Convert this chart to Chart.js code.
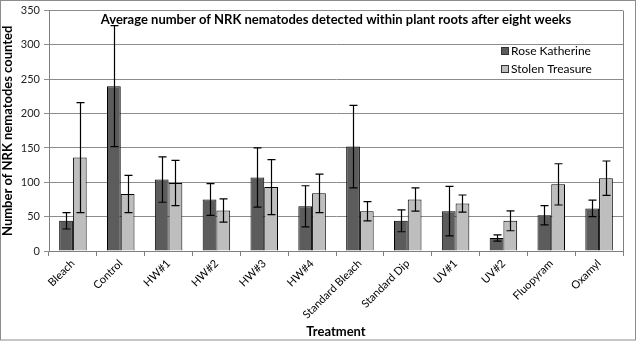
<!DOCTYPE html>
<html>
<head>
<meta charset="utf-8">
<script src="https://cdn.jsdelivr.net/npm/chart.js@4.4.1/dist/chart.umd.min.js"></script>
<style>
  body { margin: 0; background: #fff; }
  #wrap { width: 639px; height: 342px; }
</style>
</head>
<body>
<div id="wrap"><canvas id="chart" width="639" height="342"></canvas></div>
<script>
// categories and series
var treatments = ['Bleach', 'Control', 'HW#1', 'HW#2', 'HW#3', 'HW#4', 'Standard Bleach', 'Standard Dip', 'UV#1', 'UV#2', 'Fluopyram', 'Oxamyl'];
var roseKatherine = [44, 240, 104, 75, 107, 65, 152, 44, 58, 19, 52, 62];
var roseKatherineErr = [12, 88, 33, 23, 43, 30, 60, 16, 36, 4.5, 14, 12];
var stolenTreasure = [136, 83, 99, 59, 93, 84, 58, 75, 69, 44, 97, 106];
var stolenTreasureErr = [80, 27, 33, 17, 40, 28, 14, 17, 12.5, 14.5, 30, 25];
var yTicks = [0, 50, 100, 150, 200, 250, 300, 350];

var chartTitle = 'Average number of NRK nematodes detected within plant roots after eight weeks';
var fontFam = 'Lato, "Open Sans", sans-serif';

// error bars, title, legend and frame
var extras = {
    id: 'extras',
    afterDatasetsDraw: function(chart) {
        var ctx = chart.ctx;
        var y = chart.scales.y;
        ctx.save();
        ctx.strokeStyle = '#000';
        ctx.lineWidth = 1.2;
        chart.data.datasets.forEach(function(ds, di) {
            var meta = chart.getDatasetMeta(di);
            meta.data.forEach(function(bar, i) {
                var v = ds.data[i], e = ds.errors[i];
                var x = Math.round(bar.x) + 0.5;
                var yt = y.getPixelForValue(v + e), yb = y.getPixelForValue(v - e);
                ctx.beginPath();
                ctx.moveTo(x, yt); ctx.lineTo(x, yb);
                ctx.moveTo(x - 4, yt); ctx.lineTo(x + 4, yt);
                ctx.moveTo(x - 4, yb); ctx.lineTo(x + 4, yb);
                ctx.stroke();
            });
        });
        ctx.restore();
    },
    afterDraw: function(chart) {
        var ctx = chart.ctx;
        var a = chart.chartArea;
        ctx.save();
        // plot frame right edge
        ctx.strokeStyle = '#808080';
        ctx.lineWidth = 1;
        ctx.beginPath();
        ctx.moveTo(Math.round(a.right) + 0.5, a.top);
        ctx.lineTo(Math.round(a.right) + 0.5, a.bottom);
        ctx.stroke();
        // outer frame
        ctx.strokeStyle = '#8c8c8c';
        ctx.strokeRect(0.5, 0.5, 635, 339.5);
        // title
        ctx.fillStyle = '#000';
        ctx.font = 'bold 13px ' + fontFam;
        ctx.textAlign = 'center';
        ctx.textBaseline = 'middle';
        ctx.fillText(chartTitle, (a.left + a.right) / 2, 20);
        // legend
        ctx.font = '12px ' + fontFam;
        ctx.textAlign = 'left';
        chart.data.datasets.forEach(function(ds, di) {
            var ly = 51 + di * 18;
            ctx.fillStyle = ds.backgroundColor;
            ctx.fillRect(501.5, ly - 3.5, 7, 7);
            ctx.strokeStyle = '#333';
            ctx.strokeRect(501.5, ly - 3.5, 7, 7);
            ctx.fillStyle = '#000';
            ctx.fillText(ds.label, 511, ly);
        });
        ctx.restore();
    }
};

var ctx = document.getElementById('chart').getContext('2d');
var chart = new Chart(ctx, {
    type: 'bar',
    data: {
        labels: treatments,
        datasets: [{
            label: 'Rose Katherine',
            data: roseKatherine,
            errors: roseKatherineErr,
            backgroundColor: '#5c5c5c',
            borderColor: '#000',
            borderWidth: 1
        }, {
            label: 'Stolen Treasure',
            data: stolenTreasure,
            errors: stolenTreasureErr,
            backgroundColor: '#bebebe',
            borderColor: '#000',
            borderWidth: 1
        }]
    },
    options: {
        responsive: false,
        animation: false,
        layout: { padding: { left: 0, right: 16, top: 9, bottom: 0 } },
        datasets: { bar: { barPercentage: 1, categoryPercentage: 0.575 } },
        plugins: {
            legend: { display: false },
            title: { display: false },
            tooltip: { enabled: false }
        },
        scales: {
            x: {
                afterFit: function(s) { s.height = 91; },
                grid: { offset: true, drawOnChartArea: false, tickLength: 5, color: '#808080' },
                border: { color: '#808080' },
                ticks: {
                    minRotation: 45, maxRotation: 45, padding: 1,
                    color: '#000', font: { family: fontFam, size: 11 }
                },
                title: {
                    display: true, text: 'Treatment', color: '#000',
                    font: { family: fontFam, size: 13, weight: 'bold' },
                    padding: { top: 0, bottom: 2 }
                }
            },
            y: {
                min: 0, max: 350,
                afterFit: function(s) { s.width = 49; },
                afterBuildTicks: function(s) { s.ticks = yTicks.map(function(v) { return { value: v }; }); },
                grid: { color: '#8c8c8c', tickLength: 5 },
                border: { color: '#808080' },
                ticks: { color: '#222', padding: 4, font: { family: fontFam, size: 11 } },
                title: {
                    display: true, text: 'Number of NRK nematodes counted', color: '#000',
                    font: { family: fontFam, size: 13, weight: 'bold' },
                    padding: { top: 0, bottom: 0 }
                }
            }
        }
    },
    plugins: [extras]
});
</script>
</body>
</html>
